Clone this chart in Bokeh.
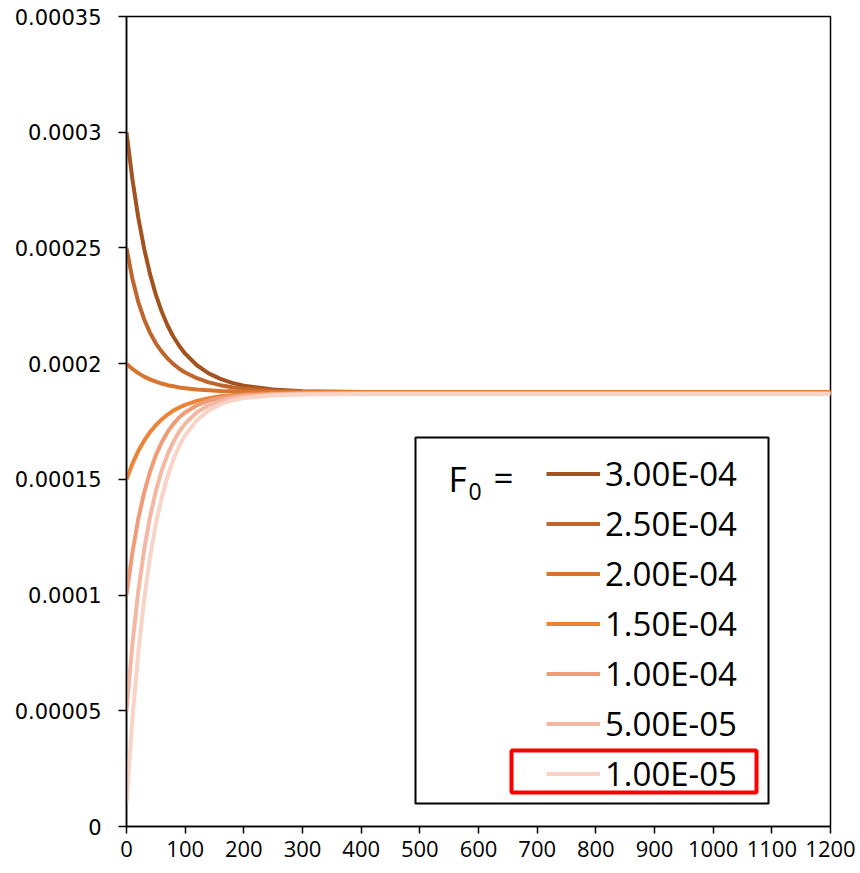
from bokeh.plotting import figure
from bokeh.models import (Range1d, FixedTicker, CustomJSTickFormatter, Legend,
                          LegendItem, BoxAnnotation, Label)
from bokeh.embed import file_html
from bokeh.resources import INLINE

# ---------------- data ----------------
t = [0, 10, 20, 30, 40, 50, 60, 70, 80, 90, 100, 120, 140, 160, 180, 200,
     250, 300, 400, 600, 800, 1000, 1200]
SCALE = 1e-4  # series below are given in units of 1e-4

F_300 = [3.000, 2.798, 2.632, 2.498, 2.388, 2.298, 2.225, 2.165, 2.116, 2.076, 2.043, 1.993,
         1.958, 1.934, 1.917, 1.905, 1.888, 1.881, 1.878, 1.877, 1.877, 1.877, 1.877]
F_250 = [2.500, 2.367, 2.267, 2.192, 2.134, 2.088, 2.052, 2.022, 1.998, 1.978, 1.962, 1.937,
         1.919, 1.907, 1.898, 1.892, 1.883, 1.879, 1.877, 1.877, 1.877, 1.877, 1.877]
F_200 = [2.000, 1.977, 1.959, 1.944, 1.932, 1.922, 1.914, 1.907, 1.902, 1.897, 1.894, 1.888,
         1.885, 1.882, 1.881, 1.880, 1.878, 1.877, 1.877, 1.877, 1.877, 1.877, 1.877]
F_150 = [1.500, 1.567, 1.622, 1.667, 1.704, 1.734, 1.759, 1.780, 1.797, 1.811, 1.822, 1.839,
         1.851, 1.859, 1.864, 1.868, 1.872, 1.874, 1.875, 1.875, 1.875, 1.875, 1.875]
F_100 = [1.000, 1.183, 1.328, 1.442, 1.532, 1.604, 1.660, 1.705, 1.740, 1.768, 1.789, 1.820,
         1.840, 1.852, 1.859, 1.864, 1.869, 1.871, 1.872, 1.872, 1.872, 1.872, 1.872]
F_050 = [0.500, 0.788, 1.015, 1.195, 1.337, 1.449, 1.538, 1.608, 1.663, 1.707, 1.741, 1.790,
         1.820, 1.839, 1.851, 1.859, 1.867, 1.870, 1.871, 1.871, 1.871, 1.871, 1.871]
F_010 = [0.100, 0.463, 0.751, 0.980, 1.162, 1.307, 1.422, 1.514, 1.587, 1.645, 1.691, 1.756,
         1.798, 1.824, 1.841, 1.851, 1.863, 1.867, 1.869, 1.869, 1.869, 1.869, 1.869]

series = [F_300, F_250, F_200, F_150, F_100, F_050, F_010]
labels = ["3.00E-04", "2.50E-04", "2.00E-04", "1.50E-04", "1.00E-04", "5.00E-05", "1.00E-05"]
colors = ["#A3531F", "#C0652B", "#D97430", "#EC8336", "#F09C78", "#F4B8A2", "#F8D3C6"]

x_ticks = [0, 100, 200, 300, 400, 500, 600, 700, 800, 900, 1000, 1100, 1200]
y_ticks = [0, 0.00005, 0.0001, 0.00015, 0.0002, 0.00025, 0.0003, 0.00035]
y_tick_labels = ["0", "0.00005", "0.0001", "0.00015", "0.0002", "0.00025", "0.0003", "0.00035"]

X0, X1 = 0, 1200
Y0, Y1 = 0, 0.00035

# ---------------- layout ----------------
FL, FT, FW, FH = 126, 16, 704, 810   # frame left/top/width/height in canvas px
PAGE = 0

def px2x(px):
    return X0 + (px - PAGE - FL) / FW * (X1 - X0)

def py2y(py):
    return Y0 + (FT + FH - (py - PAGE)) / FH * (Y1 - Y0)

p = figure(frame_width=FW, frame_height=FH, output_backend="svg", toolbar_location=None,
           x_range=Range1d(X0, X1), y_range=Range1d(Y0, Y1),
           min_border_left=FL, min_border_right=28, min_border_top=FT, min_border_bottom=46)
p.xgrid.visible = False
p.ygrid.visible = False
p.outline_line_color = "black"
p.outline_line_width = 1.5
p.outline_line_alpha = 1.0
p.background_fill_color = "white"
p.border_fill_color = "white"

ax = p.xaxis[0]
ax.ticker = FixedTicker(ticks=x_ticks)
ax.major_label_text_font = "Open Sans"
ax.major_label_text_font_size = "22px"
ax.major_label_text_color = "black"
ax.major_tick_in = 0
ax.major_tick_out = 7
ax.minor_tick_line_color = None
ax.axis_line_width = 1.5
ax.major_tick_line_width = 1.5
ax.major_label_standoff = 7

ay = p.yaxis[0]
ay.ticker = FixedTicker(ticks=y_ticks)
ay.formatter = CustomJSTickFormatter(args=dict(vals=y_ticks, labs=y_tick_labels), code="""
    for (let i = 0; i < vals.length; i++) {
        if (Math.abs(vals[i] - tick) < 1e-10) { return labs[i]; }
    }
    return "";
""")
ay.major_label_text_font = "DejaVu Sans"
ay.major_label_text_font_size = "21px"
ay.major_label_text_color = "black"
ay.major_tick_in = 0
ay.major_tick_out = 8
ay.minor_tick_line_color = None
ay.axis_line_width = 1.5
ay.major_tick_line_width = 1.5
ay.major_label_standoff = 17

renderers = []
for vals, col in zip(series, colors):
    r = p.line(t, [v * SCALE for v in vals], line_color=col, line_width=4)
    renderers.append(r)

# legend frame
box = BoxAnnotation(left=px2x(415), right=px2x(768), top=py2y(437), bottom=py2y(803),
                    fill_color="white", fill_alpha=1.0, line_color="black", line_alpha=1.0,
                    line_width=2)
p.add_layout(box)

legend = Legend(items=[LegendItem(label=lab, renderers=[r]) for lab, r in zip(labels, renderers)],
                location=(420, 30), padding=0, spacing=5, margin=0,
                border_line_color=None, background_fill_alpha=0,
                glyph_width=54, glyph_height=45, label_height=45, label_standoff=5,
                label_text_font="Open Sans", label_text_font_size="33px",
                label_text_color="black")
p.add_layout(legend)

p.add_layout(Label(x=px2x(448), y=py2y(478), text="F", text_font="Open Sans",
                   text_font_size="35px", text_baseline="middle", text_align="left",
                   text_color="black"))
p.add_layout(Label(x=px2x(468), y=py2y(491), text="0", text_font="Open Sans",
                   text_font_size="23px", text_baseline="middle", text_align="left",
                   text_color="black"))
p.add_layout(Label(x=px2x(493), y=py2y(477), text="=", text_font="Open Sans",
                   text_font_size="35px", text_baseline="middle", text_align="left",
                   text_color="black"))

red = BoxAnnotation(left=px2x(511), right=px2x(756), top=py2y(750), bottom=py2y(792),
                    fill_alpha=0, line_color="#FF0000", line_alpha=1.0, line_width=4)
p.add_layout(red)

open("out.html", "w").write(file_html(p, INLINE))
